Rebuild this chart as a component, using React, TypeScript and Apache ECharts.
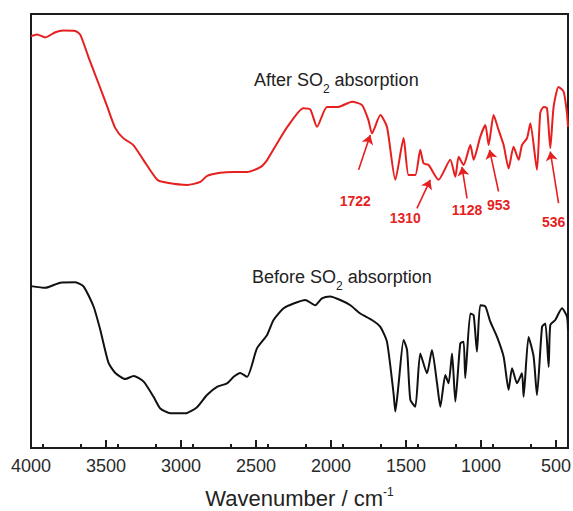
import React, { useEffect, useRef } from "react";
import * as echarts from "echarts";

// Wavenumber (cm^-1) and transmittance (a.u.)
const afterSO2: [number, number][] = [
  [4000, 94.9], [3960, 95.3], [3905, 94.6], [3838, 95.8], [3785, 96.2], [3705, 96.1], [3671, 95.2],
  [3618, 90.2], [3551, 84.1], [3491, 78.6], [3438, 73.7], [3385, 71.4], [3318, 69.8], [3251, 66.4],
  [3158, 61.8], [3091, 61.1], [2958, 60.6], [2871, 61.3], [2825, 62.7], [2738, 63.4], [2651, 63.6],
  [2558, 63.6], [2471, 64.7], [2425, 66.4], [2358, 70.3], [2291, 74.0], [2185, 78.3], [2138, 78.0],
  [2093, 74.0], [2027, 78.6], [1951, 78.6], [1860, 79.8], [1793, 79.0], [1751, 75.6], [1727, 72.5],
  [1671, 76.7], [1627, 74.0], [1571, 61.8], [1516, 71.4], [1483, 62.9], [1438, 62.9], [1405, 68.7],
  [1383, 65.6], [1349, 65.2], [1283, 61.8], [1205, 66.4], [1171, 62.5], [1149, 67.1], [1116, 65.2],
  [1071, 69.8], [1049, 66.4], [1005, 71.7], [971, 74.4], [949, 69.8], [916, 76.7], [883, 73.3],
  [849, 69.8], [816, 64.4], [783, 69.4], [749, 66.4], [727, 69.8], [693, 71.4], [671, 74.8],
  [627, 64.1], [605, 77.2], [583, 78.6], [560, 78.3], [538, 69.1], [516, 78.6], [483, 83.2],
  [449, 82.1], [427, 77.2], [420, 74.0],
];

const beforeSO2: [number, number][] = [
  [4000, 37.3], [3905, 36.9], [3805, 38.1], [3705, 38.2], [3649, 37.2], [3583, 32.6], [3538, 27.2],
  [3483, 19.6], [3438, 17.3], [3371, 15.9], [3316, 16.6], [3249, 15.3], [3183, 11.8], [3138, 9.1],
  [3071, 8.0], [2971, 8.0], [2893, 9.4], [2827, 12.2], [2760, 14.1], [2693, 14.9], [2649, 16.4],
  [2605, 17.3], [2560, 16.4], [2493, 23.0], [2427, 26.0], [2383, 29.5], [2316, 32.2], [2249, 33.3],
  [2171, 34.1], [2105, 32.9], [2060, 34.5], [2005, 34.9], [1938, 34.1], [1871, 32.9], [1805, 31.0],
  [1727, 29.5], [1671, 27.9], [1627, 24.5], [1583, 12.6], [1571, 8.4], [1549, 14.9], [1516, 24.9],
  [1493, 22.6], [1471, 11.1], [1438, 9.5], [1405, 21.8], [1360, 17.2], [1327, 22.6], [1293, 14.9],
  [1271, 9.5], [1238, 16.8], [1216, 14.9], [1193, 21.8], [1171, 10.7], [1138, 24.1], [1116, 24.5],
  [1105, 16.1], [1071, 31.0], [1049, 30.6], [1027, 22.2], [1005, 32.9], [971, 32.6], [938, 29.1],
  [893, 25.6], [849, 21.0], [816, 13.4], [793, 18.4], [760, 14.9], [727, 17.2], [716, 11.8],
  [683, 25.6], [649, 21.0], [627, 12.2], [593, 27.9], [571, 28.7], [549, 18.7], [538, 28.3],
  [505, 29.5], [460, 32.2], [427, 30.3], [420, 27.2],
];

// Annotated peaks: label, arrow tail, arrow head, label position
const peakLabels = ["1722", "1310", "1128", "953", "536"];
const arrowTails: [number, number][] = [[1816, 64.1], [1427, 55.2], [1093, 57.5], [883, 59.1], [483, 56.4]];
const arrowHeads: [number, number][] = [[1738, 72.1], [1338, 61.8], [1127, 64.8], [943, 68.7], [538, 68.3]];
const labelPos: [number, number][] = [[1838, 56.8], [1505, 52.9], [1093, 54.8], [883, 56.0], [516, 52.1]];

const majorTicks = [4000, 3500, 3000, 2500, 2000, 1500, 1000, 500];

const seriesNames = ["After SO2 absorption", "Before SO2 absorption"];
const seriesLabelPos: [number, number][] = [[1965, 84.8], [1927, 39.4]];

const FONT = "'Liberation Sans', Arial, Helvetica, sans-serif";
const RED = "#e61f1f";
const BLACK = "#111111";
const AXIS = "#1c1c1c";

export default function App() {
  const ref = useRef<HTMLDivElement>(null);
  useEffect(() => {
    if (!ref.current) return;
    const chart = echarts.init(ref.current, undefined, { renderer: "svg" });
    const grid = { left: 31, top: 14, right: 5, bottom: 63, containLabel: false, outerBoundsMode: "none" };
    const xBase = { type: "value", min: 420, max: 4000, inverse: true };
    const seriesTag = (prefix: string, pos: [number, number]) => ({
      coord: pos,
      symbol: "rect",
      symbolSize: 1,
      itemStyle: { color: "rgba(0,0,0,0)" },
      label: {
        show: true,
        position: "inside",
        formatter: `{m|${prefix} SO}{s|2}{m| absorption}`,
        rich: {
          m: { fontSize: 18, fontFamily: FONT, color: "#222", lineHeight: 30, verticalAlign: "middle" },
          s: { fontSize: 12, fontFamily: FONT, color: "#222", verticalAlign: "bottom" },
        },
      },
    });
    const option: any = {
      animation: false,
      backgroundColor: "#ffffff",
      grid: [
        { ...grid, show: true, borderColor: AXIS, borderWidth: 2, backgroundColor: "transparent" },
        { ...grid },
      ],
      xAxis: [
        {
          ...xBase,
          gridIndex: 0,
          name: "Wavenumber / cm{sup|-1}",
          nameLocation: "middle",
          nameGap: 38,
          nameTextStyle: {
            fontSize: 22,
            fontFamily: FONT,
            color: "#222",
            rich: {
              sup: { fontSize: 12, fontFamily: FONT, color: "#222", verticalAlign: "top" },
            },
            lineHeight: 25,
          },
          axisLine: { show: true, lineStyle: { color: AXIS, width: 2 } },
          axisTick: { show: true, inside: true, length: 8, customValues: majorTicks, lineStyle: { color: AXIS, width: 2 } },
          axisLabel: {
            show: true,
            customValues: majorTicks,
            formatter: (v: number) => String(v),
            margin: 9,
            fontSize: 18,
            fontFamily: FONT,
            color: "#2a2a2a",
            hideOverlap: false,
          },
          splitLine: { show: false },
        },
        {
          ...xBase,
          gridIndex: 1,
          interval: 250,
          axisLine: { show: false },
          axisTick: { show: true, inside: true, length: 4, lineStyle: { color: AXIS, width: 2 } },
          axisLabel: { show: false },
          splitLine: { show: false },
        },
      ],
      yAxis: [
        { type: "value", min: 0, max: 100, gridIndex: 0, axisLine: { show: false }, axisTick: { show: false }, axisLabel: { show: false }, splitLine: { show: false } },
        { type: "value", min: 0, max: 100, gridIndex: 1, axisLine: { show: false }, axisTick: { show: false }, axisLabel: { show: false }, splitLine: { show: false } },
      ],
      series: [
        {
          name: seriesNames[0],
          type: "line",
          data: afterSO2,
          showSymbol: false,
          smooth: 0.2,
          lineStyle: { color: RED, width: 2 },
          itemStyle: { color: RED },
          silent: true,
          markLine: {
            silent: true,
            symbol: ["none", "arrow"],
            symbolSize: 9,
            label: { show: false },
            lineStyle: { color: RED, width: 1.6, type: "solid" },
            data: arrowTails.map((t, i) => [{ coord: t }, { coord: arrowHeads[i] }]),
          },
          markPoint: {
            silent: true,
            data: [
              seriesTag("After", seriesLabelPos[0]),
              ...peakLabels.map((txt, i) => ({
                coord: labelPos[i],
                symbol: "rect",
                symbolSize: 1,
                itemStyle: { color: "rgba(0,0,0,0)" },
                label: {
                  show: true,
                  position: "inside",
                  formatter: txt,
                  color: RED,
                  fontSize: 14,
                  fontWeight: "bold",
                  fontFamily: FONT,
                },
              })),
            ],
          },
        },
        {
          name: seriesNames[1],
          type: "line",
          data: beforeSO2,
          showSymbol: false,
          smooth: 0.2,
          lineStyle: { color: BLACK, width: 2 },
          itemStyle: { color: BLACK },
          silent: true,
          markPoint: {
            silent: true,
            data: [seriesTag("Before", seriesLabelPos[1])],
          },
        },
      ],
    };
    chart.setOption(option);
    return () => chart.dispose();
  }, []);
  return (
    <div
      ref={ref}
      style={{ position: "fixed", left: 0, top: 0, width: 573, height: 511, background: "#fff" }}
    />
  );
}
